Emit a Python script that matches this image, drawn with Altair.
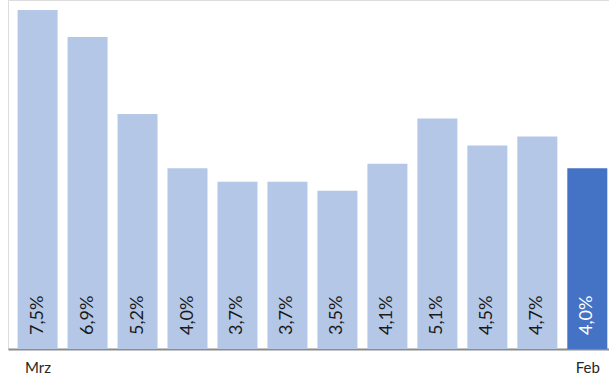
import json
import altair as alt
import pandas as pd

# Monthly rates, March through February
months = ["Mrz", "Apr", "Mai", "Jun", "Jul", "Aug", "Sep", "Okt", "Nov", "Dez", "Jan", "Feb"]
rates = [7.5, 6.9, 5.2, 4.0, 3.7, 3.7, 3.5, 4.1, 5.1, 4.5, 4.7, 4.0]
current = [False] * 11 + [True]

df = pd.DataFrame({
    "idx": list(range(len(months))),
    "month": months,
    "rate": rates,
    "current": current,
})
df["label"] = df["rate"].map(lambda v: f"{v:.1f}%".replace(".", ","))

FONT = "Lato"

x_enc = alt.X(
    "idx:Q",
    scale=alt.Scale(domain=[-0.492, 11.334], nice=False, zero=False),
    axis=alt.Axis(
        values=[0, len(months) - 1],
        labelExpr=f"{json.dumps(months)}[datum.value]",
        title=None,
        grid=False,
        ticks=False,
        domainColor="#8c8c8c",
        domainWidth=2,
        labelFont=FONT,
        labelFontSize=15,
        labelColor="#262626",
        labelPadding=11,
    ),
)
y_scale = alt.Scale(domain=[0, 7.72], nice=False, zero=True)

base = alt.Chart(df)

bars = base.mark_bar(size=40, clip=True).encode(
    x=x_enc,
    y=alt.Y("rate:Q", scale=y_scale, axis=None),
    color=alt.Color(
        "current:N",
        scale=alt.Scale(domain=[False, True], range=["#b4c7e7", "#4472c4"]),
        legend=None,
    ),
)

# Rotated value labels sitting near the foot of each bar
labels = base.mark_text(
    angle=270, align="left", baseline="middle", dx=14, dy=0,
    font=FONT, fontSize=18,
).encode(
    x=alt.X("idx:Q"),
    y=alt.datum(0, scale=y_scale),
    text="label:N",
    color=alt.Color(
        "current:N",
        scale=alt.Scale(domain=[False, True], range=["#1a1a1a", "#ffffff"]),
        legend=None,
    ),
)

chart = (
    alt.layer(bars, labels)
    .resolve_scale(color="independent")
    .properties(
        width=601,
        height=349,
        padding={"left": 8, "top": 0, "right": 0, "bottom": 28},
        autosize=alt.AutoSizeParams(type="none"),
    )
    .configure_view(strokeWidth=0, stroke="transparent")
    .configure(background="white")
)

chart.save("out.html", embed_options={"renderer": "svg", "actions": False})
